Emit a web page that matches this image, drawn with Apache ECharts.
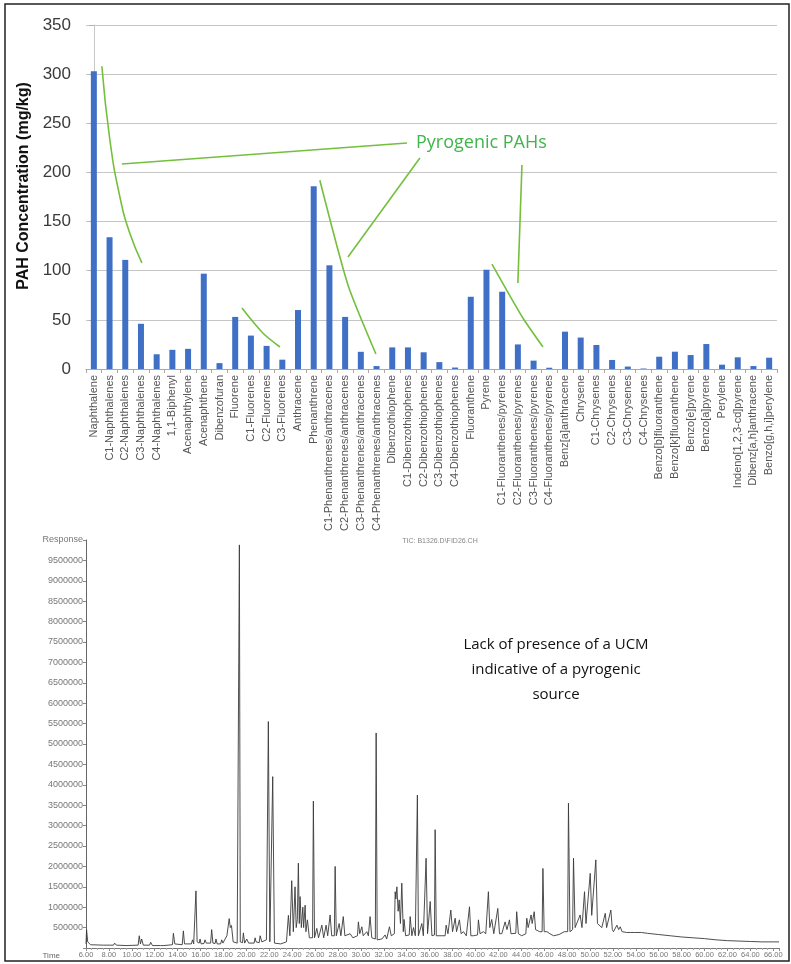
<!DOCTYPE html>
<html>
<head>
<meta charset="utf-8">
<script src="https://cdn.jsdelivr.net/npm/echarts@6/dist/echarts.min.js"></script>
<style>html,body{margin:0;padding:0;background:#fff}#c{width:791px;height:964px}</style>
</head>
<body>
<div id="c"></div>
<script>
// ---------- Top chart data ----------
const categories = [
  'Naphthalene','C1-Naphthalenes','C2-Naphthalenes','C3-Naphthalenes','C4-Naphthalenes',
  '1,1-Biphenyl','Acenaphthylene','Acenaphthene','Dibenzofuran','Fluorene',
  'C1-Fluorenes','C2-Fluorenes','C3-Fluorenes','Anthracene','Phenanthrene',
  'C1-Phenanthrenes/anthracenes','C2-Phenanthrenes/anthracenes','C3-Phenanthrenes/anthracenes','C4-Phenanthrenes/anthracenes','Dibenzothiophene',
  'C1-Dibenzothiophenes','C2-Dibenzothiophenes','C3-Dibenzothiophenes','C4-Dibenzothiophenes','Fluoranthene',
  'Pyrene','C1-Fluoranthenes/pyrenes','C2-Fluoranthenes/pyrenes','C3-Fluoranthenes/pyrenes','C4-Fluoranthenes/pyrenes',
  'Benz[a]anthracene','Chrysene','C1-Chrysenes','C2-Chrysenes','C3-Chrysenes',
  'C4-Chrysenes','Benzo[b]fluoranthene','Benzo[k]fluoranthene','Benzo[e]pyrene','Benzo[a]pyrene',
  'Perylene','Indeno[1,2,3-cd]pyrene','Dibenz[a,h]anthracene','Benzo[g,h,i]perylene'
];
const pahValues = [
  303, 134, 111, 46, 15,
  19.5, 20.5, 97, 6, 53,
  34, 23.5, 9.5, 60, 186,
  105.5, 53, 17.5, 3, 22,
  22, 17, 7, 1.5, 73.5,
  101, 78.6, 25, 8.5, 1.3,
  38, 32, 24.4, 9.2, 2.5,
  0.5, 12.5, 17.6, 14.2, 25.4,
  4.4, 11.9, 3, 11.5
];
const pahTicks = [0, 50, 100, 150, 200, 250, 300, 350];

// annotation strokes, in (category index, mg/kg) space
const annoLong  = [[1.78, 208.5], [19.94, 229.9]];
const annoNaph  = [[0.51, 308], [1.02, 233], [1.66, 175], [2.29, 138], [3.06, 108]];
const annoFluor = [[9.43, 62], [10.76, 36.6], [11.85, 22.4]];
const annoPhen  = [[14.39, 192], [16.18, 85.5], [17.96, 15.3]];
const annoPhen2 = [[16.18, 114], [20.76, 214.6]];
const annoVert  = [[27.26, 207.5], [27.0, 87.5]];
const annoPyr   = [[25.35, 106.8], [27.32, 51.9], [28.6, 22.4]];

// ---------- Chromatogram data (time in min, response in millions) ----------
const chromTime = [
  6.00, 6.05, 6.15, 6.40, 7.50, 8.40, 8.50, 8.65, 9.50, 10.55, 10.65, 10.75, 10.86, 11.00, 11.55, 11.65, 11.80,
  12.50, 12.61, 12.80, 13.55, 13.63, 13.75, 14.40, 14.50, 14.60, 15.20, 15.30, 15.40, 15.52, 15.60, 15.70,
  15.88, 15.96, 16.05, 16.30, 16.39, 16.50, 16.88, 16.97, 17.08, 17.27, 17.35, 17.45, 17.75, 17.85, 17.95,
  18.30, 18.50, 18.60, 18.70, 18.85, 19.20, 19.33, 19.39, 19.47, 19.66, 19.74, 19.85, 19.96, 20.03, 20.20,
  20.68, 20.76, 20.85, 21.12, 21.20, 21.35, 21.75, 21.85, 21.92, 22.05, 22.22, 22.30, 22.45, 23.00, 23.50,
  23.67, 23.80, 23.96, 24.10, 24.25, 24.35, 24.45, 24.54, 24.62, 24.69, 24.80, 24.93, 25.00, 25.13, 25.20,
  25.33, 25.50, 25.78, 25.85, 25.95, 26.15, 26.30, 26.59, 26.75, 26.96, 27.10, 27.31, 27.45, 27.68, 27.75,
  27.85, 28.10, 28.25, 28.46, 28.60, 29.06, 29.30, 29.70, 29.78, 29.90, 30.08, 30.20, 30.51, 30.65, 30.80,
  30.95, 31.26, 31.33, 31.42, 31.83, 32.11, 32.25, 32.49, 32.65, 32.92, 32.99, 33.05, 33.14, 33.25, 33.34,
  33.45, 33.57, 33.70, 33.77, 33.90, 34.22, 34.30, 34.45, 34.59, 34.75, 34.86, 34.93, 35.02, 35.32, 35.45,
  35.62, 35.69, 35.82, 36.05, 36.20, 36.42, 36.48, 36.58, 37.00, 37.35, 37.44, 37.60, 37.85, 38.00, 38.23,
  38.35, 38.60, 38.75, 38.95, 39.20, 39.48, 39.60, 39.83, 40.18, 40.26, 40.40, 40.70, 40.90, 41.13, 41.25,
  41.42, 41.60, 41.95, 42.10, 42.30, 42.59, 42.75, 42.97, 43.10, 43.52, 43.60, 43.75, 44.04, 44.40, 44.48,
  44.60, 44.86, 44.95, 45.13, 45.25, 45.42, 45.60, 45.82, 45.89, 46.00, 46.24, 46.50, 46.82, 47.30, 47.40,
  47.75, 47.90, 48.05, 48.12, 48.25, 48.33, 48.48, 48.56, 48.70, 48.86, 49.14, 49.30, 49.52, 49.65, 49.72,
  50.02, 50.15, 50.25, 50.51, 50.65, 50.73, 51.03, 51.33, 51.45, 51.53, 51.82, 51.95, 52.05, 52.35, 52.50,
  52.64, 52.80, 52.93, 53.20, 53.55, 53.66, 53.90, 54.50, 55.00, 56.00, 57.00, 58.00, 59.00, 60.00, 61.00,
  62.00, 63.00, 64.00, 65.00, 66.00, 66.50
];
const chromResp = [
  0.10, 0.45, 0.15, 0.08, 0.07, 0.07, 0.12, 0.07, 0.06, 0.07, 0.30, 0.10, 0.22, 0.07, 0.07, 0.14, 0.06,
  0.06, 0.10, 0.06, 0.08, 0.36, 0.10, 0.08, 0.42, 0.10, 0.10, 0.20, 0.10, 0.12, 1.40, 0.15,
  0.12, 0.22, 0.10, 0.11, 0.20, 0.12, 0.12, 0.45, 0.12, 0.11, 0.22, 0.10, 0.10, 0.20, 0.12,
  0.30, 0.72, 0.50, 0.55, 0.15, 0.12, 0.14, 9.88, 0.15, 0.13, 0.37, 0.12, 0.12, 0.22, 0.12,
  0.12, 0.25, 0.15, 0.13, 0.30, 0.15, 0.20, 0.16, 5.55, 0.15, 0.13, 4.20, 0.12, 0.10, 0.15,
  0.80, 0.30, 1.65, 0.40, 1.50, 0.50, 0.70, 2.08, 0.60, 1.26, 0.50, 1.00, 0.50, 1.05, 0.40,
  0.69, 0.25, 0.25, 3.60, 0.25, 0.48, 0.25, 0.56, 0.25, 0.56, 0.30, 0.81, 0.30, 0.30, 2.00,
  0.30, 0.60, 0.30, 0.77, 0.30, 0.35, 0.25, 0.30, 0.64, 0.35, 0.52, 0.30, 0.40, 0.30, 0.77,
  0.25, 0.22, 5.27, 0.20, 0.22, 0.32, 0.22, 0.52, 0.30, 0.35, 1.38, 1.20, 1.50, 0.90, 1.18,
  0.60, 1.59, 0.40, 0.70, 0.30, 0.32, 0.77, 0.30, 0.50, 0.30, 0.32, 3.75, 0.30, 0.60, 0.30,
  0.32, 2.20, 0.35, 1.14, 0.30, 0.32, 2.90, 0.30, 0.30, 0.30, 0.56, 0.35, 0.93, 0.40, 0.73,
  0.40, 0.69, 0.35, 0.40, 0.30, 1.01, 0.30, 0.30, 0.32, 0.69, 0.35, 0.40, 0.35, 1.38, 0.50,
  0.70, 0.35, 0.97, 0.35, 0.35, 0.64, 0.45, 0.69, 0.35, 0.36, 0.89, 0.35, 0.30, 0.35, 0.73,
  0.50, 0.81, 0.60, 0.89, 0.45, 0.45, 0.40, 0.40, 1.95, 0.40, 0.40, 0.35, 0.30, 0.33, 0.35,
  0.40, 0.38, 0.40, 3.55, 0.40, 0.40, 0.45, 2.20, 0.50, 0.50, 0.81, 0.50, 1.38, 0.60, 0.60,
  1.83, 0.80, 0.80, 2.16, 0.60, 0.60, 0.50, 0.85, 0.50, 0.50, 0.93, 0.45, 0.40, 0.56, 0.45,
  0.52, 0.40, 0.40, 0.38, 0.38, 0.42, 0.38, 0.38, 0.36, 0.33, 0.30, 0.27, 0.25, 0.23, 0.20,
  0.18, 0.17, 0.16, 0.15, 0.15, 0.15
];
const chromTicksY = [0.5, 1, 1.5, 2, 2.5, 3, 3.5, 4, 4.5, 5, 5.5, 6, 6.5, 7, 7.5, 8, 8.5, 9, 9.5];

const chromData = chromTime.map((t, i) => [t, chromResp[i]]);

const GREEN_LINE = '#74bf3c';
const annoSeries = (data, smooth) => ({
  type: 'line', xAxisIndex: 1, yAxisIndex: 0, data: data, smooth: smooth,
  symbol: 'none', silent: true, z: 5,
  lineStyle: { color: GREEN_LINE, width: 1.6 }
});

const chart = echarts.init(document.getElementById('c'), null, { renderer: 'canvas' });
chart.setOption({
  animation: false,
  backgroundColor: '#ffffff',
  grid: [
    { left: 86, top: 25, width: 691, height: 344 },
    { left: 86, top: 540, width: 693, height: 408 }
  ],
  xAxis: [
    {
      type: 'category', gridIndex: 0, data: categories,
      axisLine: { lineStyle: { color: '#a8a8a8', width: 1 } },
      axisTick: { show: true, length: 4, lineStyle: { color: '#a8a8a8' } },
      axisLabel: { rotate: 90, interval: 0, fontSize: 11, color: '#555', margin: 6, fontFamily: 'Liberation Sans' }
    },
    { type: 'value', gridIndex: 0, min: -0.5, max: 43.5, show: false },
    {
      type: 'value', gridIndex: 1, min: 6, max: 66.5, interval: 2,
      name: 'Time', nameLocation: 'start', nameGap: 26,
      nameTextStyle: { fontSize: 8, color: '#666', verticalAlign: 'top', padding: [4, 0, 0, 0] },
      axisLine: { lineStyle: { color: '#777', width: 1 } },
      axisTick: { show: true, length: 3, lineStyle: { color: '#888' } },
      minorTick: { show: true, splitNumber: 4, length: 2, lineStyle: { color: '#aaa' } },
      splitLine: { show: false },
      axisLabel: {
        fontSize: 7.5, color: '#777', margin: 3, fontFamily: 'Liberation Sans',
        formatter: v => (v > 66 ? '' : v.toFixed(2))
      }
    }
  ],
  yAxis: [
    {
      type: 'value', gridIndex: 0, min: 0, max: 350, interval: 50,
      axisLine: { show: true, lineStyle: { color: '#c8c8c8' } },
      axisTick: { show: true, length: 5, lineStyle: { color: '#b0b0b0' } },
      splitLine: { lineStyle: { color: '#c6c6c6', width: 1.2 } },
      axisLabel: { fontSize: 17, color: '#3a3a3a', margin: 15, fontFamily: 'Liberation Sans',
        formatter: v => (pahTicks.indexOf(v) >= 0 ? String(v) : '') }
    },
    {
      type: 'value', gridIndex: 1, min: 0, max: 10, interval: 0.5,
      axisLine: { show: true, lineStyle: { color: '#666', width: 1 } },
      axisTick: { show: true, length: 3, lineStyle: { color: '#888' } },
      splitLine: { show: false },
      axisLabel: {
        fontSize: 9, color: '#777', margin: 3, fontFamily: 'Liberation Sans',
        formatter: v => {
          if (v >= 10) return 'Response';
          if (chromTicksY.indexOf(v) >= 0) return String(Math.round(v * 1e6));
          return '';
        }
      }
    }
  ],
  series: [
    {
      type: 'bar', xAxisIndex: 0, yAxisIndex: 0, data: pahValues, barWidth: 6,
      itemStyle: { color: '#3f70c6' }
    },
    annoSeries(annoLong, false),
    annoSeries(annoNaph, 0.5),
    annoSeries(annoFluor, 0.3),
    annoSeries(annoPhen, 0.2),
    annoSeries(annoPhen2, false),
    annoSeries(annoVert, false),
    annoSeries(annoPyr, 0.2),
    {
      type: 'line', xAxisIndex: 2, yAxisIndex: 1, data: chromData,
      symbol: 'none', silent: true,
      lineStyle: { color: '#3a3a3a', width: 0.9 }
    }
  ],
  graphic: [
    { type: 'rect', shape: { x: 5, y: 4, width: 784, height: 957 }, style: { fill: 'none', stroke: '#222', lineWidth: 1.5 }, z: 10 },
    { type: 'text', x: 24, y: 186, rotation: Math.PI / 2,
      style: { text: 'PAH Concentration (mg/kg)', fontSize: 16, fontWeight: 'bold', fill: '#111',
        fontFamily: 'Liberation Sans', textAlign: 'center', textVerticalAlign: 'middle' } },
    { type: 'text', x: 416, y: 143,
      style: { text: 'Pyrogenic PAHs', fontSize: 18, fill: '#3fb54a', fontFamily: 'Open Sans',
        textAlign: 'left', textVerticalAlign: 'middle' } },
    { type: 'text', x: 440, y: 541,
      style: { text: 'TIC: B1326.D\\FID26.CH', fontSize: 7, fill: '#888', fontFamily: 'Liberation Sans',
        textAlign: 'center', textVerticalAlign: 'middle' } },
    { type: 'text', x: 556, y: 670,
      style: { text: 'Lack of presence of a UCM\nindicative of a pyrogenic\nsource', fontSize: 15, lineHeight: 25,
        fill: '#111', fontFamily: 'Open Sans', textAlign: 'center', textVerticalAlign: 'middle' } }
  ]
});
</script>
</body>
</html>
